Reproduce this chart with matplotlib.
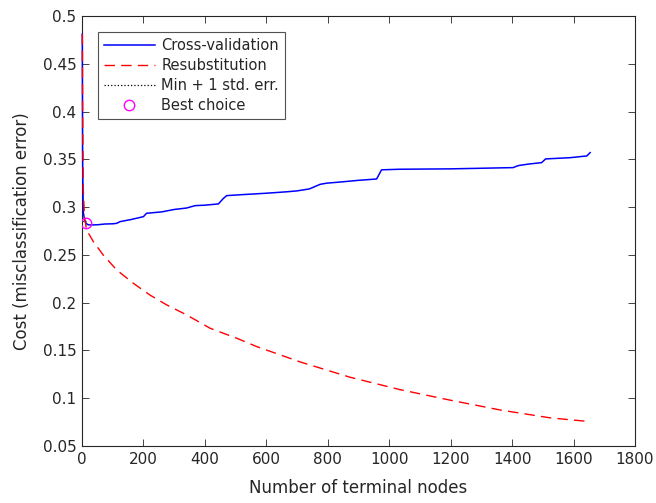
import numpy as np
import matplotlib
matplotlib.use("Agg")
import matplotlib.pyplot as plt

# cross-validation cost vs number of terminal nodes
cv_nodes = [1, 2, 4, 8, 13, 20, 31, 50, 75, 100, 113, 124, 160, 200, 210,
            260, 300, 340, 368, 400, 444, 460, 471, 520, 600, 666, 699, 740,
            775, 796, 850, 900, 959, 975, 1035, 1200, 1403, 1420, 1453, 1496,
            1509, 1589, 1643, 1654]
cv_cost = [0.481, 0.35, 0.295, 0.287, 0.283, 0.2815, 0.2813, 0.2815, 0.2823,
           0.2825, 0.283, 0.2848, 0.287, 0.290, 0.2935, 0.295, 0.2975, 0.299,
           0.3015, 0.302, 0.3033, 0.309, 0.312, 0.313, 0.3145, 0.316, 0.3169,
           0.319, 0.3238, 0.325, 0.3265, 0.328, 0.3294, 0.339, 0.3396, 0.340,
           0.3413, 0.3434, 0.345, 0.3465, 0.3504, 0.3517, 0.3535, 0.357]

# resubstitution cost
rs_nodes = [1, 2, 4, 8, 15, 37, 69, 113, 167, 221, 276, 341, 417, 504, 569,
            710, 872, 1035, 1198, 1361, 1523, 1654]
rs_cost = [0.481, 0.40, 0.32, 0.29, 0.276, 0.2638, 0.2499, 0.2342, 0.2203,
           0.208, 0.1976, 0.1871, 0.1732, 0.1627, 0.154, 0.138, 0.122, 0.109,
           0.098, 0.0877, 0.0795, 0.0755]

# min + 1 std. err. line and best choice
se_nodes = [1, 13]
se_cost = [0.2855, 0.2855]
best_nodes = [13]
best_cost = [0.283]

txt = "#262626"
fig = plt.figure(figsize=(6.56, 5.03), dpi=100)
ax = fig.add_axes([0.125, 0.1133, 0.843, 0.855])

ax.plot(cv_nodes, cv_cost, "b-", lw=1.1, zorder=3, clip_on=False,
        label="Cross-validation")
ax.plot(rs_nodes, rs_cost, "r--", lw=1.0, dashes=(7.5, 4.5), zorder=3,
        clip_on=False, label="Resubstitution")
ax.plot(se_nodes, se_cost, "k:", lw=0.9, zorder=3, label="Min + 1 std. err.")
ax.plot(best_nodes, best_cost, "o", mfc="none", mec="magenta", ms=7.5, mew=1.0,
        zorder=4, label="Best choice")

ax.set_xlim(0, 1800)
ax.set_ylim(0.05, 0.5)
ax.set_xticks(np.arange(0, 1801, 200))
ax.set_yticks(np.arange(0.05, 0.501, 0.05))
ax.set_yticklabels(["0.05", "0.1", "0.15", "0.2", "0.25", "0.3", "0.35",
                    "0.4", "0.45", "0.5"])
ax.tick_params(direction="in", top=True, right=True, length=5, width=0.6,
               colors=txt, labelsize=11, labelcolor=txt, pad=4)
for s in ax.spines.values():
    s.set_color(txt)
    s.set_linewidth(0.8)

ax.set_xlabel("Number of terminal nodes", fontsize=12, color=txt, labelpad=9)
ax.set_ylabel("Cost (misclassification error)", fontsize=12, color=txt,
              labelpad=8)

leg = ax.legend(loc="upper left", bbox_to_anchor=(0.029, 0.963), fontsize=10.5,
                frameon=True, fancybox=False, edgecolor=txt, handlelength=3.5,
                borderpad=0.4, labelspacing=0.35, handletextpad=0.45,
                borderaxespad=0)
leg.get_frame().set_linewidth(0.8)
for t in leg.get_texts():
    t.set_color(txt)

fig.savefig("out.png", dpi=100)
